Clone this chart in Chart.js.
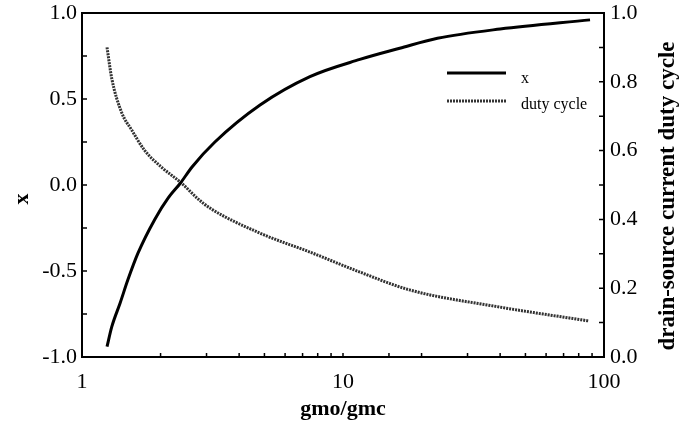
<!DOCTYPE html>
<html>
<head>
<meta charset="utf-8">
<script src="https://cdn.jsdelivr.net/npm/chart.js@4"></script>
<style>
  html, body { margin: 0; padding: 0; background: #fff; }
  #wrap { width: 682px; height: 434px; }
</style>
</head>
<body>
<div id="wrap"><canvas id="grafico"></canvas></div>
<script>
// datos
const gmoX = [1.247, 1.30, 1.40, 1.50, 1.64, 1.90, 2.14, 2.38, 2.64, 3.23, 4.81, 7.47, 11.6, 16.5, 23, 40, 88.4];
const valoresX = [-0.94, -0.825, -0.686, -0.55, -0.395, -0.20, -0.075, 0.01, 0.105, 0.25, 0.465, 0.63, 0.73, 0.795, 0.853, 0.907, 0.96];
const gmoDuty = [1.247, 1.30, 1.42, 1.55, 1.74, 2.03, 2.41, 2.78, 3.09, 4.81, 7.47, 11.6, 18, 40, 87];
const valoresDuty = [0.90, 0.81, 0.71, 0.66, 0.60, 0.55, 0.505, 0.46, 0.433, 0.36, 0.305, 0.247, 0.195, 0.145, 0.105];
const etiquetasX = [1, 10, 100];
const nombres = ['x', 'duty cycle'];
const tituloIzq = 'x';
const tituloDerecho = 'drain-source current duty cycle';

const FUENTE = '"Liberation Serif", "Times New Roman", serif';

function textoVertical(ctx, txt, x, y, size) {
    ctx.save();
    ctx.translate(x, y);
    ctx.rotate(-Math.PI / 2);
    ctx.font = 'bold ' + size + 'px ' + FUENTE;
    ctx.textAlign = 'center';
    ctx.textBaseline = 'middle';
    ctx.fillStyle = '#000';
    ctx.fillText(txt, 0, 0);
    ctx.restore();
}

// marco, marcas hacia dentro, leyenda y titulos verticales
const marcoPlugin = {
    id: 'marco',
    afterDraw(chart) {
        const ctx = chart.ctx;
        const a = chart.chartArea;
        const sx = chart.scales.x, sy = chart.scales.y, sy1 = chart.scales.y1;
        ctx.save();
        ctx.strokeStyle = '#000';
        ctx.lineWidth = 2;
        ctx.strokeRect(a.left, a.top, a.right - a.left, a.bottom - a.top);

        ctx.lineWidth = 1.5;
        ctx.beginPath();
        sx.ticks.forEach(t => {
            const px = sx.getPixelForValue(t.value);
            if (px <= a.left + 1 || px >= a.right - 1) return;
            ctx.moveTo(px, a.bottom);
            ctx.lineTo(px, a.bottom - 4);
        });
        sy.ticks.forEach(t => {
            const py = sy.getPixelForValue(t.value);
            if (py <= a.top + 1 || py >= a.bottom - 1) return;
            ctx.moveTo(a.left, py);
            ctx.lineTo(a.left + 5, py);
        });
        sy1.ticks.forEach(t => {
            const py = sy1.getPixelForValue(t.value);
            if (py <= a.top + 1 || py >= a.bottom - 1) return;
            ctx.moveTo(a.right, py);
            ctx.lineTo(a.right - 5, py);
        });
        ctx.stroke();

        // leyenda
        const lx = a.left + 365, ly = a.top + 60;
        chart.data.datasets.forEach((ds, i) => {
            const y = ly + i * 28;
            ctx.strokeStyle = ds.borderColor;
            ctx.lineWidth = ds.borderWidth;
            ctx.setLineDash(ds.borderDash || []);
            ctx.beginPath();
            ctx.moveTo(lx, y);
            ctx.lineTo(lx + 59, y);
            ctx.stroke();
            ctx.setLineDash([]);
            ctx.fillStyle = '#000';
            ctx.font = '16px ' + FUENTE;
            ctx.textBaseline = 'alphabetic';
            ctx.fillText(ds.label, lx + 74, y + (i === 0 ? 10 : 8));
        });
        ctx.restore();

        const midY = (a.top + a.bottom) / 2;
        textoVertical(ctx, tituloIzq, 22, midY + 14, 22);
        textoVertical(ctx, tituloDerecho, 668, midY + 11, 23);
    }
};

new Chart(document.getElementById('grafico'), {
    type: 'line',
    data: {
        datasets: [{
            label: nombres[0],
            data: gmoX.map((g, i) => ({ x: g, y: valoresX[i] })),
            yAxisID: 'y',
            borderColor: '#000',
            borderWidth: 3,
            pointRadius: 0,
            cubicInterpolationMode: 'monotone'
        }, {
            label: nombres[1],
            data: gmoDuty.map((g, i) => ({ x: g, y: valoresDuty[i] })),
            yAxisID: 'y1',
            borderColor: '#333',
            borderWidth: 3,
            borderDash: [2, 1],
            pointRadius: 0,
            cubicInterpolationMode: 'monotone'
        }]
    },
    options: {
        responsive: true,
        maintainAspectRatio: false,
        animation: false,
        layout: { padding: { top: 13, left: 0, right: 0, bottom: 0 }, autoPadding: false },
        plugins: { legend: { display: false }, tooltip: { enabled: false } },
        scales: {
            x: {
                type: 'logarithmic',
                min: 1, max: 100,
                grid: { display: false, drawTicks: false },
                border: { display: false },
                ticks: {
                    autoSkip: false, maxRotation: 0, padding: 12, color: '#000',
                    font: { family: FUENTE, size: 22 },
                    callback: v => etiquetasX.includes(v) ? String(v) : ''
                },
                title: {
                    display: true, text: 'gmo/gmc', color: '#000',
                    font: { family: FUENTE, size: 22, weight: 'bold' },
                    padding: { top: 0, bottom: 11 }
                },
                afterFit: s => { s.height = 77; }
            },
            y: {
                position: 'left',
                min: -1, max: 1,
                grid: { display: false, drawTicks: false },
                border: { display: false },
                ticks: {
                    stepSize: 0.25, padding: 5, color: '#000',
                    font: { family: FUENTE, size: 22 },
                    callback: v => (Math.abs(v * 2 - Math.round(v * 2)) < 1e-6) ? v.toFixed(1) : ''
                },
                title: { display: false },
                afterFit: s => { s.width = 82; s.paddingTop = 0; s.paddingBottom = 0; }
            },
            y1: {
                position: 'right',
                min: 0, max: 1,
                grid: { display: false, drawTicks: false },
                border: { display: false },
                ticks: {
                    stepSize: 0.1, padding: 6, color: '#000',
                    font: { family: FUENTE, size: 22 },
                    callback: v => (Math.round(v * 10) % 2 === 0) ? v.toFixed(1) : ''
                },
                title: { display: false },
                afterFit: s => { s.width = 78; s.paddingTop = 0; s.paddingBottom = 0; }
            }
        }
    },
    plugins: [marcoPlugin]
});
</script>
</body>
</html>
